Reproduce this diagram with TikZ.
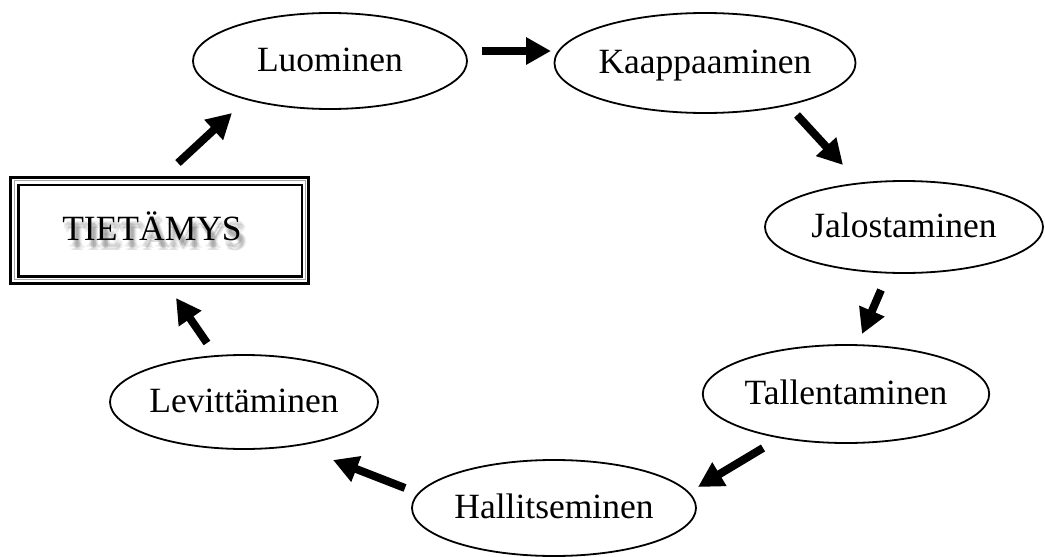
\documentclass[tikz,border=0pt]{standalone}
\usepackage{fontspec}
\setmainfont{Liberation Serif}
\usetikzlibrary{shapes.geometric,arrows.meta}

\tikzset{
  stage/.style={draw=black, line width=1.8pt, ellipse, inner sep=0pt,
    font=\fontsize{35.5}{40}\selectfont, text height=20pt, text depth=0pt},
  flow/.style={line width=8pt, -{Triangle[length=25pt,width=26pt]}},
  title/.style={font=\fontsize{35.5}{40}\selectfont, text height=20pt, text depth=0pt},
}

\begin{document}
\begin{tikzpicture}[x=1pt,y=-1pt]
  \useasboundingbox (0,0) rectangle (1045,557);
  \fill[white] (0,0) rectangle (1045,557);

  % process stages
  \node[stage, minimum width=274pt, minimum height=96pt]  (luo) at (330,61)  {Luominen};
  \node[stage, minimum width=284pt, minimum height=100pt] (kaa) at (705,63)  {Kaappaaminen};
  \node[stage, minimum width=278pt, minimum height=92pt]  (jal) at (904,227) {Jalostaminen};
  \node[stage, minimum width=284pt, minimum height=98pt]  (tal) at (846,394) {Tallentaminen};
  \node[stage, minimum width=284pt, minimum height=96pt]  (hal) at (554,508) {Hallitseminen};
  \node[stage, minimum width=268pt, minimum height=94pt]  (lev) at (244,402) {Levittäminen};

  % knowledge box with triple frame
  \node[draw=black, line width=3pt, minimum width=298pt, minimum height=106pt,
        inner sep=0pt] (tie) at (159.5,230) {};
  \draw[gray!70, line width=1pt] ([xshift=5pt,yshift=-5pt]tie.north west)
        rectangle ([xshift=-5pt,yshift=5pt]tie.south east);
  \draw[black, line width=2.5pt] ([xshift=9.5pt,yshift=-9.5pt]tie.north west)
        rectangle ([xshift=-8pt,yshift=8pt]tie.south east);

  % soft blurred shadow behind the title
  \foreach \dx/\dy in {3/5,5/7,4/9,2/7,6/6,4/4,7/8,3/10,1/6,5/10}{
    \node[title, text=black, opacity=0.06] at (152+\dx,230+\dy) {TIETÄMYS};
  }
  \node[title] (tiet) at (152,230) {TIETÄMYS};

  % arrow end points
  \coordinate (a1s) at (482,51);  \coordinate (a1e) at (551,51);
  \coordinate (a2s) at (797,115); \coordinate (a2e) at (843,165);
  \coordinate (a3s) at (881,290); \coordinate (a3e) at (862,334);
  \coordinate (a4s) at (763,448); \coordinate (a4e) at (698,487);
  \coordinate (a5s) at (405,488); \coordinate (a5e) at (333,460);
  \coordinate (a6s) at (207,343); \coordinate (a6e) at (176,298);
  \coordinate (a7s) at (178,163); \coordinate (a7e) at (232,113);

  \draw[flow] (a1s) -- (a1e);
  \draw[flow] (a2s) -- (a2e);
  \draw[flow] (a3s) -- (a3e);
  \draw[flow] (a4s) -- (a4e);
  \draw[flow] (a5s) -- (a5e);
  \draw[flow] (a6s) -- (a6e);
  \draw[flow] (a7s) -- (a7e);
\end{tikzpicture}
\end{document}
